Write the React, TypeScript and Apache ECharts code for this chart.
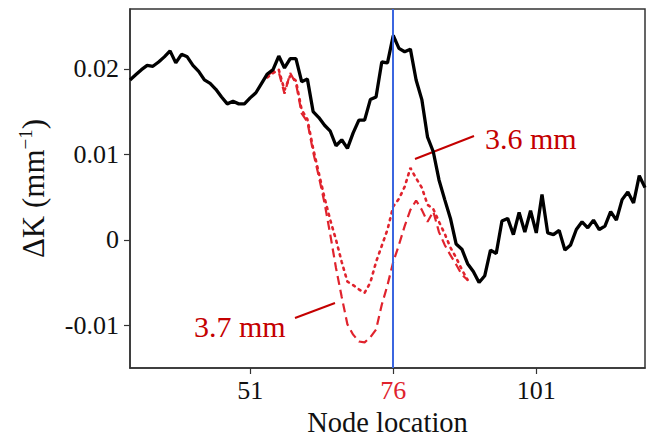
import React, { useEffect, useRef } from "react";
import * as echarts from "echarts";

const FONT = "Liberation Serif";

// x tick labels shown on the node axis
const xTickValues = [51, 76, 101];
// y tick values
const yTickValues = [-0.01, 0, 0.01, 0.02];
const markedNode = 76;

// black curve: nodes 30..120
const blackStart = 30;
const blackValues = [
  0.0187, 0.0193, 0.0199, 0.0204, 0.0203, 0.0208, 0.0214, 0.0221, 0.0207, 0.0217,
  0.0214, 0.0204, 0.0197, 0.0187, 0.0183, 0.0176, 0.0167, 0.0159, 0.0162, 0.0159,
  0.0159, 0.0166, 0.0172, 0.0183, 0.0194, 0.0199, 0.0215, 0.0201, 0.0212, 0.0212,
  0.0185, 0.0188, 0.015, 0.0143, 0.0134, 0.0127, 0.011, 0.0117, 0.0107, 0.0125,
  0.014, 0.014, 0.0164, 0.0167, 0.0208, 0.0207, 0.0239, 0.0224, 0.022, 0.0223,
  0.0187, 0.0164, 0.012, 0.0103, 0.007, 0.0047, 0.0025, -0.0005, -0.0011, -0.0028,
  -0.0037, -0.005, -0.0042, -0.0012, -0.0016, 0.0022, 0.0025, 0.0006, 0.0032, 0.0009,
  0.0034, 0.0008, 0.0053, 0.0008, 0.0006, 0.0011, -0.0012, -0.0006, 0.0012, 0.0021,
  0.0014, 0.0023, 0.0012, 0.0016, 0.0033, 0.0023, 0.0047, 0.0056, 0.0043, 0.0075,
  0.0061,
];

// red curves: nodes 54..89
const redStart = 54;
const dotted36 = [
  0.019, 0.0195, 0.0199, 0.0175, 0.0192, 0.0186, 0.0152, 0.0141, 0.0107, 0.0078,
  0.0049, 0.0023, 0.0, -0.0026, -0.0049, -0.0053, -0.0058, -0.0062, -0.005, -0.0026,
  -0.0007, 0.0012, 0.0039, 0.0048, 0.0062, 0.0084, 0.0072, 0.0061, 0.0041, 0.0036,
  0.0021, 0.0007, -0.0009, -0.0021, -0.0035, -0.0047,
];
const dashed37 = [
  0.0192, 0.0197, 0.0196, 0.0171, 0.0195, 0.0183, 0.0148, 0.0138, 0.0103, 0.0074,
  0.0043, 0.0006, -0.0033, -0.0067, -0.0099, -0.0111, -0.0119, -0.012, -0.0114, -0.0105,
  -0.0076, -0.0053, -0.0026, -0.0006, 0.0016, 0.0035, 0.0046, 0.0035, 0.0021, 0.0033,
  0.0009, -0.0006, -0.0018, -0.0029, -0.0041, -0.0047,
];

const toPairs = (start: number, vals: number[]) => vals.map((v, i) => [start + i, v]);

const RED = "#e0232d";
const DARK_RED = "#c40000";

export default function App() {
  const ref = useRef<HTMLDivElement>(null);
  useEffect(() => {
    document.body.style.margin = "0";
    const chart = echarts.init(ref.current!, null, { renderer: "svg" });
    chart.setOption({
      animation: false,
      backgroundColor: "#ffffff",
      grid: {
        left: 130,
        right: 3,
        top: 9,
        bottom: 67,
        show: true,
        borderColor: "#333333",
        borderWidth: 1.5,
        containLabel: false,
        outerBoundsMode: "none",
      },
      xAxis: {
        type: "value",
        min: 30,
        max: 120,
        name: "Node location",
        nameLocation: "middle",
        nameGap: 32,
        nameTextStyle: { fontFamily: FONT, fontSize: 28.5, lineHeight: 28.5, color: "#111" },
        axisLine: { show: true, onZero: false, lineStyle: { color: "#333", width: 1.5 } },
        axisTick: {
          show: true,
          length: 6,
          customValues: xTickValues,
          lineStyle: { color: "#333", width: 1.2 },
        },
        splitLine: { show: false },
        axisLabel: {
          customValues: xTickValues,
          margin: 9,
          fontFamily: FONT,
          fontSize: 26,
          color: (v: any) => (Number(v) === markedNode ? RED : "#111"),
          formatter: (v: number) => String(v),
        },
      },
      yAxis: {
        type: "value",
        min: -0.015,
        max: 0.027,
        name: "{a|ΔK (mm}{b|−1}{a|)}",
        nameLocation: "middle",
        nameRotate: 90,
        nameGap: 80,
        nameTextStyle: {
          rich: {
            a: { fontFamily: FONT, fontSize: 31, color: "#111", lineHeight: 34 },
            b: { fontFamily: FONT, fontSize: 19, color: "#111", verticalAlign: "top", lineHeight: 34 },
          },
        },
        axisLine: { show: true, onZero: false, lineStyle: { color: "#333", width: 1.5 } },
        axisTick: {
          show: true,
          length: 6,
          customValues: yTickValues,
          lineStyle: { color: "#333", width: 1.2 },
        },
        splitLine: { show: false },
        axisLabel: {
          customValues: yTickValues,
          margin: 11,
          fontFamily: FONT,
          fontSize: 26,
          color: "#111",
          formatter: (v: number) => {
            if (Math.abs(v) < 1e-9) return "0";
            return String(Math.round(v * 100) / 100);
          },
        },
      },
      series: [
        {
          type: "line",
          name: "black",
          data: toPairs(blackStart, blackValues),
          showSymbol: false,
          lineStyle: { color: "#000", width: 3.3 },
          z: 3,
          markLine: {
            silent: true,
            symbol: ["none", "none"],
            label: { show: false },
            lineStyle: { color: "#3b66e0", width: 2, type: "solid" },
            data: [{ xAxis: markedNode }],
          },
        },
        {
          type: "line",
          name: "3.6 mm",
          data: toPairs(redStart, dotted36),
          showSymbol: false,
          lineStyle: { color: RED, width: 2.6, type: [2, 5], cap: "round" },
          z: 2,
        },
        {
          type: "line",
          name: "3.7 mm",
          data: toPairs(redStart, dashed37),
          showSymbol: false,
          lineStyle: { color: RED, width: 2.2, type: [9, 5] },
          z: 2,
        },
      ],
      graphic: [
        {
          type: "line",
          shape: { x1: 415, y1: 159, x2: 474, y2: 136 },
          style: { stroke: DARK_RED, lineWidth: 2 },
        },
        {
          type: "text",
          x: 485,
          y: 138,
          style: {
            text: "3.6 mm",
            fill: DARK_RED,
            font: `30px "${FONT}"`,
            textVerticalAlign: "middle",
            verticalAlign: "middle",
          },
        },
        {
          type: "line",
          shape: { x1: 295, y1: 318, x2: 335, y2: 303 },
          style: { stroke: DARK_RED, lineWidth: 2 },
        },
        {
          type: "text",
          x: 194,
          y: 326,
          style: {
            text: "3.7 mm",
            fill: DARK_RED,
            font: `30px "${FONT}"`,
            textVerticalAlign: "middle",
            verticalAlign: "middle",
          },
        },
      ],
    });
    return () => chart.dispose();
  }, []);
  return (
    <div
      ref={ref}
      style={{ position: "absolute", left: 0, top: 0, width: 648, height: 435 }}
    />
  );
}
